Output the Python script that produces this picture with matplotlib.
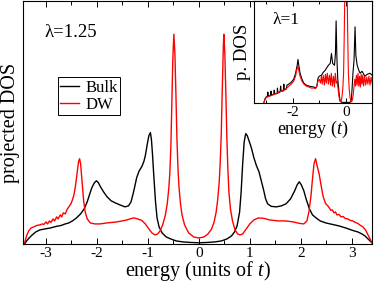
import matplotlib
matplotlib.use('Agg')
import matplotlib.pyplot as plt
from matplotlib.ticker import MultipleLocator

plt.rcParams['font.family'] = ['Liberation Serif', 'DejaVu Serif']
plt.rcParams['mathtext.fontset'] = 'custom'
plt.rcParams['mathtext.rm'] = 'Liberation Serif'
plt.rcParams['mathtext.it'] = 'Liberation Serif:italic'
plt.rcParams['axes.unicode_minus'] = False

# main panel, lambda = 1.25
e_bulk = [-3.42, -3.38, -3.33, -3.27, -3.20, -3.12, -3.02, -2.91, -2.80, -2.70,
          -2.62, -2.55, -2.48, -2.40, -2.32, -2.25, -2.19, -2.14, -2.10, -2.05,
          -2.01, -1.97, -1.93, -1.87, -1.80, -1.72, -1.64, -1.55, -1.45, -1.38,
          -1.33, -1.28, -1.22, -1.17, -1.12, -1.08, -1.05, -1.01, -0.98, -0.95,
          -0.93, -0.91, -0.88, -0.85, -0.82, -0.78, -0.72, -0.64, -0.55, -0.44,
          -0.30, -0.15, 0.0, 0.15, 0.30, 0.44, 0.55, 0.64, 0.70, 0.75,
          0.80, 0.83, 0.86, 0.89, 0.92, 0.95, 0.99, 1.03, 1.08, 1.13,
          1.18, 1.22, 1.27, 1.31, 1.35, 1.42, 1.52, 1.62, 1.71, 1.80,
          1.88, 1.93, 1.97, 2.01, 2.06, 2.11, 2.17, 2.23, 2.30, 2.38,
          2.49, 2.62, 2.75, 2.88, 3.02, 3.12, 3.20, 3.26, 3.31, 3.36, 3.40]
dos_bulk = [0, 3, 6, 9, 12, 14, 15, 16, 17.5, 18.5,
            20, 21, 23, 26, 30, 35, 42, 50, 56, 61,
            63, 61, 57, 52, 47, 43, 41, 39, 37, 38,
            42, 52, 66, 73, 77, 82, 88, 100, 108, 111,
            104, 90, 65, 42, 26, 17, 11, 7, 5, 3,
            2, 1.5, 1.2, 1.5, 2, 3, 5, 8, 12, 18,
            32, 52, 80, 102, 110, 108, 102, 96, 86, 78,
            72, 64, 54, 45, 40, 37.5, 37, 38, 40, 45,
            53, 59, 62, 59, 53, 44, 35, 29, 26, 23,
            21, 19.5, 18, 16, 13.5, 12, 10, 8, 5.5, 3, 1]

e_dw = [-3.42, -3.38, -3.34, -3.29, -3.24, -3.18, -3.12, -3.07, -3.04, -3.00,
        -2.97, -2.93, -2.90, -2.86, -2.83, -2.79, -2.76, -2.72, -2.69, -2.66,
        -2.62, -2.58, -2.55, -2.51, -2.48, -2.45, -2.42, -2.39, -2.36, -2.34,
        -2.32, -2.30, -2.28, -2.26, -2.23, -2.19, -2.13, -2.04, -1.94, -1.80,
        -1.61, -1.45, -1.35, -1.28, -1.20, -1.12, -1.05, -0.98, -0.92, -0.86,
        -0.81, -0.76, -0.71, -0.66, -0.62, -0.59, -0.57, -0.55, -0.53, -0.51,
        -0.49, -0.47, -0.45, -0.43, -0.41, -0.39, -0.36, -0.33, -0.28, -0.20,
        -0.10, 0.0, 0.10, 0.18, 0.25, 0.30, 0.34, 0.37, 0.40, 0.42,
        0.44, 0.46, 0.48, 0.49, 0.51, 0.53, 0.55, 0.57, 0.59, 0.62,
        0.66, 0.71, 0.76, 0.81, 0.86, 0.93, 1.00, 1.08, 1.17, 1.28,
        1.39, 1.55, 1.70, 1.85, 1.98, 2.06, 2.12, 2.16, 2.20, 2.23,
        2.26, 2.29, 2.32, 2.36, 2.40, 2.44, 2.49, 2.53, 2.56, 2.59,
        2.62, 2.65, 2.68, 2.71, 2.75, 2.79, 2.83, 2.87, 2.92, 2.97,
        3.02, 3.07, 3.12, 3.17, 3.22, 3.27, 3.31, 3.35, 3.39]
dos_dw = [1, 8, 13, 16, 17, 18.5, 19, 20, 19.5, 22,
          20, 23, 21.5, 25, 23, 27, 25, 29, 27, 31,
          30, 35, 37, 40, 44, 49, 58, 70, 82, 85,
          80, 68, 55, 43, 32, 25, 21, 20, 20, 21,
          22, 23.5, 25, 26, 25, 23.5, 20, 15, 11, 9,
          10, 13, 19, 28, 40, 55, 70, 95, 140, 185,
          209, 190, 150, 105, 76, 57, 40, 29, 19, 11,
          7, 6, 7, 10, 15, 22, 32, 44, 62, 82,
          110, 155, 195, 209, 190, 150, 105, 74, 52, 35,
          23, 14, 10, 9, 10, 15, 20, 24, 26, 25.5,
          24, 23, 23, 22, 20.5, 20, 23, 32, 48, 65,
          80, 85, 78, 70, 58, 47, 40, 38, 36, 33.5,
          34, 31, 32, 29, 29.5, 27, 27.5, 25.5, 25, 23.5,
          23, 21.5, 20.5, 18.5, 17, 14, 10, 6, 2]

# inset, lambda = 1
e_in_bulk = [-3.08, -3.04, -2.99, -2.95, -2.93, -2.91, -2.83, -2.81, -2.79, -2.71,
             -2.69, -2.67, -2.58, -2.57, -2.55, -2.47, -2.45, -2.43, -2.35, -2.33,
             -2.31, -2.24, -2.21, -2.14, -2.05, -1.96, -1.89, -1.83, -1.80, -1.77,
             -1.72, -1.65, -1.58, -1.49, -1.39, -1.30, -1.20, -1.14, -1.09, -1.05,
             -1.00, -0.92, -0.85, -0.78, -0.71, -0.66, -0.59, -0.545, -0.50, -0.43,
             -0.395, -0.37, -0.34, -0.31, -0.26, -0.22, -0.15, 0.15, 0.20, 0.23,
             0.26, 0.30, 0.34, 0.37, 0.42, 0.48, 0.53, 0.60, 0.71, 0.80, 0.90, 0.98]
dos_in_bulk = [0, 4, 6, 6.5, 11, 7, 7.5, 12, 8, 8.5,
               13, 9, 9.5, 15, 10, 11, 17, 12, 12, 19,
               13, 14, 18, 19, 21, 24, 30, 38, 44, 38,
               30, 24, 20, 18, 17, 16.5, 16, 15, 17, 25,
               27, 28, 31, 33, 36, 38, 40, 50, 40, 38,
               50, 83, 45, 25, 10, 2, 0.5, 0.5, 3, 15,
               30, 42, 77, 48, 38, 33, 30, 32, 27, 29, 30, 28]

e_in_dw = [-3.08, -3.04, -2.99, -2.89, -2.79, -2.71, -2.61, -2.52, -2.43, -2.33,
           -2.24, -2.14, -2.05, -1.96, -1.89, -1.85, -1.80, -1.77, -1.72, -1.65,
           -1.58, -1.49, -1.39, -1.30, -1.20, -1.14, -1.09, -1.05, -1.00, -0.96,
           -0.92, -0.89, -0.85, -0.81, -0.77, -0.74, -0.70, -0.66, -0.62, -0.58,
           -0.55, -0.51, -0.47, -0.43, -0.40, -0.36, -0.33, -0.30, -0.27, -0.24,
           -0.21, -0.18, -0.15, -0.12, -0.09, -0.07, -0.05, -0.03, 0.0, 0.03,
           0.05, 0.07, 0.09, 0.12, 0.15, 0.18, 0.21, 0.24, 0.27, 0.30,
           0.33, 0.36, 0.39, 0.42, 0.45, 0.48, 0.51, 0.54, 0.57, 0.60,
           0.63, 0.66, 0.70, 0.74, 0.78, 0.82, 0.86, 0.90, 0.94, 0.98]
dos_in_dw = [0, 3, 5.5, 6.5, 7.5, 8.5, 9.5, 11, 12, 13,
             14.5, 17, 19, 22, 27, 33, 37, 33, 27, 22,
             19, 17, 16, 15, 15, 14.5, 17, 22, 24, 20,
             27, 19, 28, 18, 29, 20, 30, 19, 28, 18,
             30, 17, 27, 16, 30, 20, 22, 15, 8, 3,
             1, 2, 6, 14, 30, 60, 100, 130, 135, 130,
             100, 60, 30, 14, 6, 2, 1, 3, 8, 16,
             24, 17, 28, 18, 30, 17, 27, 16, 29, 19,
             28, 17, 27, 18, 26, 19, 27, 18, 26, 20]

fig = plt.figure(figsize=(3.74, 2.85), dpi=100)
ax = fig.add_axes([0.0615, 0.1439, 0.9335, 0.852])

ax.plot(e_bulk, dos_bulk, color='black', lw=1.0, label='Bulk')
ax.plot(e_dw, dos_dw, color='red', lw=1.0, label='DW')
ax.set_xlim(-3.45, 3.4)
ax.set_ylim(0, 242)
ax.set_yticks([])
ax.xaxis.set_major_locator(MultipleLocator(1))
ax.xaxis.set_minor_locator(MultipleLocator(0.5))
ax.tick_params(axis='x', which='both', direction='in', top=True, labelsize=11, pad=2.5)
ax.tick_params(axis='x', which='major', length=4.5, width=0.7)
ax.tick_params(axis='x', which='minor', length=3, width=0.7)
for s in ax.spines.values():
    s.set_linewidth(0.8)
ax.set_xlabel('energy (units of $t$)', fontsize=14.5, labelpad=-1)
ax.set_ylabel('projected DOS', fontsize=14.5, labelpad=2)
ax.text(0.063, 0.851, 'λ=1.25', transform=ax.transAxes, fontsize=13.5, va='baseline')
leg = ax.legend(loc='upper left', bbox_to_anchor=(0.1, 0.686), borderaxespad=0,
                fontsize=12, fancybox=False, framealpha=1, edgecolor='black',
                handlelength=1.1, handletextpad=0.4, borderpad=0.15, labelspacing=0.05)
leg.get_frame().set_linewidth(0.7)

ins = fig.add_axes([0.679, 0.639, 0.316, 0.357])
ins.plot(e_in_bulk, dos_in_bulk, color='black', lw=0.8)
ins.plot(e_in_dw, dos_in_dw, color='red', lw=0.8)
ins.set_xlim(-3.45, 0.98)
ins.set_ylim(0, 103)
ins.set_yticks([])
ins.xaxis.set_major_locator(MultipleLocator(2))
ins.xaxis.set_minor_locator(MultipleLocator(1))
ins.tick_params(axis='x', which='both', direction='in', top=True, labelsize=11, pad=2)
ins.tick_params(axis='x', which='major', length=3.5, width=0.7)
ins.tick_params(axis='x', which='minor', length=2.5, width=0.7)
for s in ins.spines.values():
    s.set_linewidth(0.8)
ins.set_xlabel('energy ($t$)', fontsize=13, labelpad=0)
ins.set_ylabel('p. DOS', fontsize=13.5, labelpad=2)
ins.text(0.153, 0.78, 'λ=1', transform=ins.transAxes, fontsize=12.5, va='baseline')

fig.savefig('out.png', dpi=100)
